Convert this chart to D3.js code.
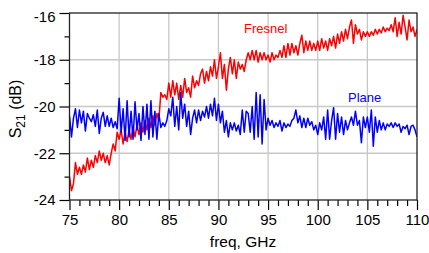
<!DOCTYPE html>
<html><head><meta charset="utf-8">
<script src="https://cdn.jsdelivr.net/npm/d3@7"></script>
<style>
html,body{margin:0;padding:0;background:#fff;}
text{font-family:"Liberation Sans",Arial,sans-serif;}
</style>
</head><body>
<svg id="c" width="429" height="253"></svg>
<script>
const freqStart = 75, freqEnd = 110, freqStep = 0.2;
const xTicks = [75, 80, 85, 90, 95, 100, 105, 110];
const yTicks = [-24, -22, -20, -18, -16];
const seriesNames = ["Fresnel", "Plane"];
const fresnel = [
 -23.0,-23.6,-23.3,-22.4,-22.9, -22.6,-22.9,-22.5,-22.8,-22.2,
 -22.7,-22.3,-22.6,-22.1,-22.4, -21.9,-22.3,-22.0,-22.4,-22.1,
 -22.5,-22.0,-21.6,-21.9,-21.1, -21.4,-21.0,-21.6,-21.1,-21.5,
 -21.0,-21.4,-20.9,-21.3,-20.8, -21.2,-20.7,-21.1,-20.6,-21.0,
 -20.5,-20.9,-20.4,-20.8,-20.3, -20.6,-19.4,-19.6,-19.5,-19.7,
 -19.0,-19.6,-18.9,-19.5,-19.0, -19.7,-19.1,-19.6,-18.8,-19.4,
 -19.2,-19.6,-18.7,-19.2,-18.9, -19.1,-18.6,-18.4,-19.0,-18.5,
 -18.9,-18.3,-18.7,-18.0,-18.8, -18.3,-17.7,-18.8,-18.2,-19.3,
 -18.4,-17.9,-18.6,-18.0,-18.8, -18.1,-18.4,-18.2,-18.5,-18.0,
 -17.7,-18.0,-17.6,-18.0,-17.6, -18.1,-17.7,-18.0,-17.7,-18.0,
 -17.8,-18.1,-17.7,-18.0,-17.8, -17.9,-17.6,-17.9,-17.4,-17.9,
 -17.3,-17.8,-17.3,-17.7,-17.4, -17.8,-17.3,-16.95,-17.7,-17.2,
 -17.6,-17.2,-17.6,-17.3,-17.6, -17.2,-17.6,-17.1,-17.5,-17.2,
 -17.6,-17.1,-17.4,-17.0,-17.5, -16.9,-17.3,-16.8,-17.2,-16.7,
 -17.1,-16.6,-16.3,-17.3,-16.5, -16.9,-16.7,-17.15,-16.8,-17.0,
 -16.8,-17.0,-16.8,-16.95,-16.7, -16.9,-16.7,-16.85,-16.6,-16.8,
 -16.65,-16.75,-16.5,-16.8,-16.2, -17.0,-16.4,-16.9,-16.1,-16.6,
 -17.15,-16.3,-16.8,-16.6,-17.0, -16.7
];
const plane = [
 -20.4,-21.3,-20.5,-20.1,-20.9, -20.15,-20.7,-20.2,-21.05,-20.3,
 -20.5,-20.65,-20.35,-20.85,-20.15, -21.15,-20.5,-20.25,-20.85,-20.4,
 -20.85,-20.5,-20.9,-20.65,-20.95, -19.65,-21.1,-20.1,-21.45,-19.75,
 -21.3,-20.2,-21.4,-19.8,-21.0, -20.3,-21.45,-20.0,-21.2,-19.9,
 -21.4,-19.75,-21.3,-20.2,-21.4, -20.3,-20.9,-20.7,-20.85,-20.6,
 -20.1,-20.4,-19.6,-20.85,-20.0, -21.0,-19.4,-20.5,-19.9,-20.85,
 -20.2,-21.2,-20.5,-20.15,-20.7, -20.15,-20.6,-20.2,-20.45,-20.0,
 -20.5,-19.9,-20.4,-19.65,-20.6, -19.9,-20.7,-20.2,-21.1,-20.6,
 -21.3,-20.7,-21.0,-20.7,-21.05, -20.8,-21.2,-20.15,-21.1,-20.2,
 -20.3,-21.1,-20.0,-21.4,-19.4, -21.3,-19.5,-21.6,-19.7,-21.0,
 -20.5,-20.8,-20.6,-20.9,-20.7, -20.85,-20.6,-21.05,-20.7,-20.9,
 -20.75,-20.85,-20.6,-20.5,-20.15, -20.7,-20.4,-20.9,-20.5,-20.9,
 -20.5,-20.8,-20.65,-21.0,-20.8, -21.2,-20.7,-21.0,-20.45,-21.4,
 -20.15,-21.4,-20.6,-20.05,-21.4, -20.3,-21.1,-20.45,-21.2,-20.6,
 -21.0,-20.7,-20.45,-20.8,-20.2, -20.8,-20.6,-21.55,-20.45,-20.9,
 -20.45,-21.1,-20.15,-21.7,-20.45, -21.1,-20.6,-21.0,-20.7,-21.0,
 -20.75,-20.85,-20.7,-20.9,-20.7, -20.85,-20.75,-21.1,-20.85,-20.95,
 -20.8,-21.2,-20.85,-20.8,-21.0, -21.3
];
const freqs = fresnel.map((_, i) => +(freqStart + i * freqStep).toFixed(2));

const svg = d3.select("#c");
const L = 69.5, R = 417, T = 13, B = 200;
const x = d3.scaleLinear().domain([freqStart, freqEnd]).range([L, R]);
const y = d3.scaleLinear().domain([-24, -16]).range([B, T]);

// grid
const g = svg.append("g");
g.selectAll(".gx").data(xTicks.slice(1, -1)).enter().append("line")
  .attr("x1", d => x(d)).attr("x2", d => x(d)).attr("y1", T).attr("y2", B)
  .attr("stroke", "#c8c8c8").attr("stroke-width", 1.3);
g.selectAll(".gy").data(yTicks.slice(1, -1)).enter().append("line")
  .attr("x1", L).attr("x2", R).attr("y1", d => y(d)).attr("y2", d => y(d))
  .attr("stroke", "#c8c8c8").attr("stroke-width", 1.3);

// minor ticks
const xMinor = d3.range(freqStart, freqEnd + 0.001, 1).filter(v => !xTicks.includes(v));
const yMinor = [-23, -21, -19, -17];
const xAxisMinor = d3.axisBottom(x).tickValues(xMinor).tickSize(6).tickFormat("");
const yAxisMinor = d3.axisLeft(y).tickValues(yMinor).tickSize(5).tickFormat("");
const xAxis = d3.axisBottom(x).tickValues(xTicks).tickSize(10).tickPadding(4).tickFormat(d3.format("d"));
const yAxis = d3.axisLeft(y).tickValues(yTicks).tickSize(10).tickPadding(4).tickFormat(d => d3.format("d")(d).replace("−", "-"));

function styleAxis(sel) {
  sel.select(".domain").remove();
  sel.selectAll("line").attr("stroke", "#000").attr("stroke-width", 1.2);
  sel.selectAll("text").attr("fill", "#000").style("font-size", "15px")
     .style("font-family", '"Liberation Sans",Arial,sans-serif');
}
svg.append("g").attr("transform", `translate(0,${B})`).call(xAxisMinor).call(styleAxis);
svg.append("g").attr("transform", `translate(${L},0)`).call(yAxisMinor).call(styleAxis);
const gx = svg.append("g").attr("transform", `translate(0,${B})`).call(xAxis).call(styleAxis);
const gy = svg.append("g").attr("transform", `translate(${L},0)`).call(yAxis).call(styleAxis);
gy.selectAll(".tick text").filter(d => d === -16).attr("dy", "0.55em");

// clip
svg.append("clipPath").attr("id", "clip").append("rect")
  .attr("x", L).attr("y", T).attr("width", R - L).attr("height", B - T);

const line = d3.line().x((d, i) => x(freqs[i])).y(d => y(d));
const plot = svg.append("g").attr("clip-path", "url(#clip)");
plot.append("path").datum(fresnel).attr("d", line)
  .attr("fill", "none").attr("stroke", "#ff0000").attr("stroke-width", 1.5).attr("stroke-linejoin", "round");
plot.append("path").datum(plane).attr("d", line)
  .attr("fill", "none").attr("stroke", "#0000ff").attr("stroke-width", 1.5).attr("stroke-linejoin", "round");

// frame
svg.append("rect").attr("x", L).attr("y", T).attr("width", R - L).attr("height", B - T)
  .attr("fill", "none").attr("stroke", "#222").attr("stroke-width", 1.3);

// labels
svg.append("text").attr("x", 244).attr("y", 33).attr("fill", "#ff0000")
  .style("font-size", "13px").text(seriesNames[0]);
svg.append("text").attr("x", 348).attr("y", 102).attr("fill", "#0000ff")
  .style("font-size", "13px").text(seriesNames[1]);

svg.append("text").attr("x", 243).attr("y", 247).attr("text-anchor", "middle")
  .style("font-size", "15.5px").attr("fill", "#000").text("freq, GHz");

const yl = svg.append("text").attr("transform", "translate(21,109) rotate(-90)")
  .attr("text-anchor", "middle").style("font-size", "16px").attr("fill", "#000");
yl.append("tspan").text("S");
yl.append("tspan").attr("dy", 4).style("font-size", "12px").text("21");
yl.append("tspan").attr("dy", -4).text(" (dB)");
</script>
</body></html>
